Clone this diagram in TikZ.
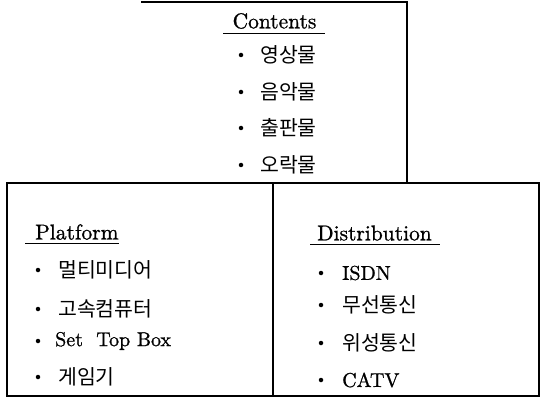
\documentclass[tikz,border=0pt]{standalone}
\usepackage{fontspec}
\newfontfamily\kr{Noto Sans CJK KR}
\newfontfamily\lmten{lmroman10-regular.otf}[FakeBold=1]
\begin{document}
\begin{tikzpicture}[x=1pt,y=-1pt,
  frame/.style={line width=1.3pt},
  head/.style={font=\lmten\fontsize{21.5}{24}\selectfont, inner sep=0pt, anchor=center},
  item/.style={font=\kr\fontsize{20.5}{24}\selectfont, inner sep=0pt, anchor=west},
  itemlat/.style={font=\lmten\fontsize{20}{24}\selectfont, inner sep=0pt, anchor=west},
  dot/.style={circle, fill, inner sep=0pt, minimum size=4.5pt},
  uline/.style={line width=0.8pt}]
\useasboundingbox (0,0) rectangle (543,398);
% frames
\draw[frame] (141,2) -- (407,2) -- (407,183);
\draw[frame] (7,183) rectangle (539,396);
\draw[frame] (273,183) -- (273,396);
% Contents
\node[head] (c) at (274.5,21) {Contents};
\draw[uline] ([xshift=-9pt,yshift=-4pt]c.south west) -- ([xshift=8pt,yshift=-4pt]c.south east);
\node[dot] (c1d) at (241,55) {};
\node[item] (c1) at (260,55) {영상물};
\node[dot] (c2d) at (241,92) {};
\node[item] (c2) at (260,92) {음악물};
\node[dot] (c3d) at (241,128) {};
\node[item] (c3) at (260,128) {출판물};
\node[dot] (c4d) at (241,165) {};
\node[item] (c4) at (260,165) {오락물};
% Platform
\node[head, anchor=west] (p) at (35,232) {Platform};
\draw[uline] ([xshift=-10pt,yshift=-4pt]p.south west) -- ([yshift=-4pt]p.south east);
\node[dot] (p1d) at (38,270) {};
\node[item] (p1) at (58,270) {멀티미디어};
\node[dot] (p2d) at (38,309) {};
\node[item] (p2) at (58,309) {고속컴퓨터};
\node[dot] (p3d) at (38,341) {};
\node[itemlat] (p3) at (55,341) {Set\ \ Top\ Box};
\node[dot] (p4d) at (38,377) {};
\node[item] (p4) at (58,377) {게임기};
% Distribution
\node[head, anchor=west] (d) at (317,233) {Distribution};
\draw[uline] ([xshift=-7pt,yshift=-4pt]d.south west) -- ([xshift=8pt,yshift=-4pt]d.south east);
\node[dot] (d1d) at (321,273) {};
\node[itemlat] (d1) at (342,273) {ISDN};
\node[dot] (d2d) at (321,305) {};
\node[item] (d2) at (342,305) {무선통신};
\node[dot] (d3d) at (321,343) {};
\node[item] (d3) at (342,343) {위성통신};
\node[dot] (d4d) at (321,380) {};
\node[itemlat] (d4) at (342,380) {CATV};
\end{tikzpicture}
\end{document}
